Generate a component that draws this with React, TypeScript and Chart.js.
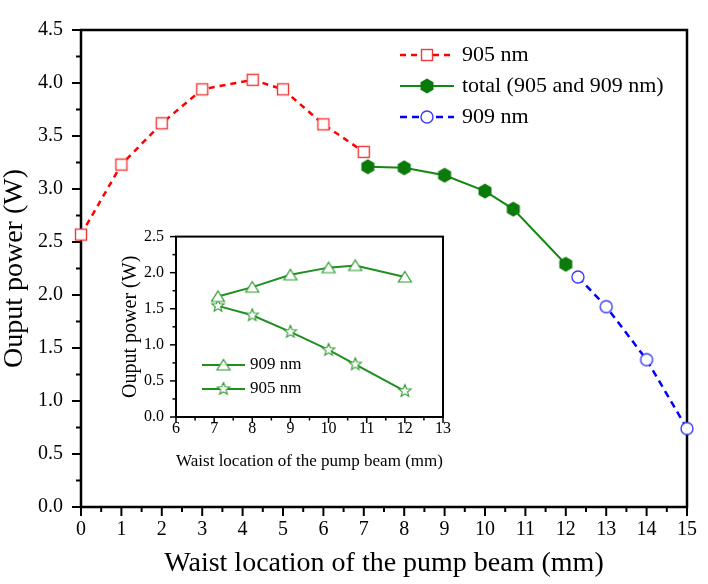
import { useEffect, useRef } from 'react';
import { Chart, registerables } from 'chart.js';

Chart.register(...registerables);

const FONT = '"Liberation Serif", "Times New Roman", serif';

// Main plot: output power versus waist location
const x905 = [0, 1, 2, 3, 4.25, 5, 6, 7];
const p905 = [2.57, 3.23, 3.62, 3.94, 4.03, 3.94, 3.61, 3.35];
const xTotal = [7.1, 8, 9, 10, 10.7, 12];
const pTotal = [3.21, 3.2, 3.13, 2.98, 2.81, 2.29];
const x909 = [12.3, 13, 14, 15];
const p909 = [2.17, 1.89, 1.39, 0.74];

// Inset: the two lines that make up the total
const xInset = [7.1, 8, 9, 10, 10.7, 12];
const inset909 = [1.67, 1.8, 1.97, 2.07, 2.1, 1.94];
const inset905 = [1.54, 1.41, 1.18, 0.93, 0.73, 0.36];

const mainLabels = ['905 nm', 'total (905 and 909 nm)', '909 nm'];
const insetLabels = ['909 nm', '905 nm'];
const xTitle = 'Waist location of the pump beam (mm)';
const yTitle = 'Ouput power (W)';

const pts = (xs: number[], ys: number[]) => xs.map((x, i) => ({ x, y: ys[i] }));

function marker(size: number, draw: (ctx: CanvasRenderingContext2D, c: number) => void) {
  const cv = document.createElement('canvas');
  cv.width = size;
  cv.height = size;
  const ctx = cv.getContext('2d')!;
  draw(ctx, size / 2);
  return cv;
}

function polygon(ctx: CanvasRenderingContext2D, c: number, n: number, rOut: number, rIn: number | null, start: number) {
  ctx.beginPath();
  const count = rIn === null ? n : n * 2;
  for (let i = 0; i < count; i++) {
    const r = rIn === null || i % 2 === 0 ? rOut : rIn;
    const a = start + (i * Math.PI * 2) / count;
    const px = c + r * Math.cos(a);
    const py = c + r * Math.sin(a);
    if (i === 0) ctx.moveTo(px, py);
    else ctx.lineTo(px, py);
  }
  ctx.closePath();
}

// Outward ticks on the bottom/left axes and a closed frame around the plot area
const axisFrame = {
  id: 'axisFrame',
  beforeDatasetsDraw(chart: any, _args: any, o: any) {
    const { ctx, chartArea } = chart;
    const { left, right, top, bottom } = chartArea;
    const xs = chart.scales.x;
    const ys = chart.scales.y;
    ctx.save();
    ctx.strokeStyle = '#000';
    ctx.lineWidth = o.tickWidth;
    const nx = Math.round((xs.max - xs.min) / o.xMinor);
    const xr = Math.round(o.xMajor / o.xMinor);
    for (let i = 0; i <= nx; i++) {
      const px = xs.getPixelForValue(xs.min + i * o.xMinor);
      const len = i % xr === 0 ? o.major : o.minor;
      ctx.beginPath();
      ctx.moveTo(px, bottom);
      ctx.lineTo(px, bottom + len);
      ctx.stroke();
    }
    const ny = Math.round((ys.max - ys.min) / o.yMinor);
    const yr = Math.round(o.yMajor / o.yMinor);
    for (let i = 0; i <= ny; i++) {
      const py = ys.getPixelForValue(ys.min + i * o.yMinor);
      const len = i % yr === 0 ? o.major : o.minor;
      ctx.beginPath();
      ctx.moveTo(left, py);
      ctx.lineTo(left - len, py);
      ctx.stroke();
    }
    ctx.lineWidth = o.frameWidth;
    ctx.strokeRect(left, top, right - left, bottom - top);
    ctx.restore();
  },
};

// Line-and-marker legend built from the datasets
const lineLegend = {
  id: 'lineLegend',
  afterDraw(chart: any, _args: any, o: any) {
    const { ctx } = chart;
    ctx.save();
    chart.data.datasets.forEach((ds: any, i: number) => {
      const y = o.y + i * o.rowGap;
      ctx.strokeStyle = ds.borderColor;
      ctx.lineWidth = ds.borderWidth;
      ctx.setLineDash(ds.borderDash || []);
      ctx.beginPath();
      ctx.moveTo(o.x, y);
      ctx.lineTo(o.x + o.lineLen, y);
      ctx.stroke();
      ctx.setLineDash([]);
      const img = ds.pointStyle as HTMLCanvasElement;
      ctx.drawImage(img, o.x + o.lineLen / 2 - img.width / 2, y - img.height / 2);
      ctx.fillStyle = '#000';
      ctx.font = `${o.fontSize}px ${FONT}`;
      ctx.textBaseline = 'middle';
      ctx.textAlign = 'left';
      ctx.fillText(ds.label, o.x + o.lineLen + o.textGap, y);
    });
    ctx.restore();
  },
};

export default function App() {
  const mainRef = useRef<HTMLCanvasElement>(null);
  const insetRef = useRef<HTMLCanvasElement>(null);

  useEffect(() => {
    const square = marker(16, (ctx, c) => {
      ctx.fillStyle = '#fff';
      ctx.strokeStyle = '#f03a3a';
      ctx.lineWidth = 1.4;
      ctx.fillRect(c - 5.5, c - 5.5, 11, 11);
      ctx.strokeRect(c - 5.5, c - 5.5, 11, 11);
    });
    const hexagon = marker(18, (ctx, c) => {
      polygon(ctx, c, 6, 7.5, null, -Math.PI / 2);
      ctx.fillStyle = '#0a7a0a';
      ctx.fill();
    });
    const circle = marker(16, (ctx, c) => {
      ctx.beginPath();
      ctx.arc(c, c, 6, 0, Math.PI * 2);
      ctx.fillStyle = '#fff';
      ctx.fill();
      ctx.strokeStyle = '#3a3aff';
      ctx.lineWidth = 1.4;
      ctx.stroke();
    });
    const triangle = marker(18, (ctx, c) => {
      ctx.beginPath();
      ctx.moveTo(c, c - 5.5);
      ctx.lineTo(c + 6.5, c + 5);
      ctx.lineTo(c - 6.5, c + 5);
      ctx.closePath();
      ctx.fillStyle = '#fff';
      ctx.fill();
      ctx.strokeStyle = '#2e9a2e';
      ctx.lineWidth = 1.2;
      ctx.stroke();
    });
    const star = marker(18, (ctx, c) => {
      polygon(ctx, c, 5, 6.5, 2.8, -Math.PI / 2);
      ctx.fillStyle = '#fff';
      ctx.fill();
      ctx.strokeStyle = '#2e9a2e';
      ctx.lineWidth = 1.1;
      ctx.stroke();
    });

    const tickFont = (size: number) => ({ family: FONT, size });

    const main = new Chart(mainRef.current!, {
      type: 'line',
      data: {
        datasets: [
          {
            label: mainLabels[0],
            data: pts(x905, p905),
            borderColor: '#ff0000',
            borderWidth: 2.5,
            borderDash: [6, 5],
            pointStyle: square,
          },
          {
            label: mainLabels[1],
            data: pts(xTotal, pTotal),
            borderColor: '#128a12',
            borderWidth: 2,
            pointStyle: hexagon,
          },
          {
            label: mainLabels[2],
            data: pts(x909, p909),
            borderColor: '#0000ff',
            borderWidth: 2.5,
            borderDash: [7, 5],
            pointStyle: circle,
          },
        ] as any,
      },
      options: {
        responsive: false,
        animation: false,
        clip: false as any,
        events: [],
        layout: { padding: { top: 12, right: 14, left: 0, bottom: 0 } },
        elements: { line: { tension: 0 }, point: { radius: 6 } },
        scales: {
          x: {
            type: 'linear',
            min: 0,
            max: 15,
            afterFit: (s: any) => { s.height = 77; },
            grid: { display: false, drawTicks: false },
            border: { display: false },
            ticks: { stepSize: 1, font: tickFont(20), color: '#000', padding: 11, maxRotation: 0, autoSkip: false },
            title: { display: true, text: xTitle, color: '#000', font: { family: FONT, size: 28, lineHeight: 1 }, padding: { top: 0, bottom: 6 } },
          },
          y: {
            type: 'linear',
            min: 0,
            max: 4.5,
            afterFit: (s: any) => { s.width = 81; },
            grid: { display: false, drawTicks: false },
            border: { display: false },
            ticks: { stepSize: 0.5, font: tickFont(20), color: '#000', padding: 18, callback: (v: any) => Number(v).toFixed(1) },
            title: { display: true, text: yTitle, color: '#000', font: { family: FONT, size: 28, lineHeight: 1 }, padding: { top: 0.5, bottom: 0 } },
          },
        },
        plugins: {
          legend: { display: false },
          tooltip: { enabled: false },
          axisFrame: { xMajor: 1, xMinor: 0.5, yMajor: 0.5, yMinor: 0.25, major: 9, minor: 5, tickWidth: 2, frameWidth: 2.5 },
          lineLegend: { x: 400, y: 55, rowGap: 31, lineLen: 54, textGap: 8, fontSize: 22 },
        } as any,
      },
      plugins: [axisFrame, lineLegend],
    });

    const inset = new Chart(insetRef.current!, {
      type: 'line',
      data: {
        datasets: [
          {
            label: insetLabels[0],
            data: pts(xInset, inset909),
            borderColor: '#1f8f1f',
            borderWidth: 2,
            pointStyle: triangle,
          },
          {
            label: insetLabels[1],
            data: pts(xInset, inset905),
            borderColor: '#1f8f1f',
            borderWidth: 2,
            pointStyle: star,
          },
        ] as any,
      },
      options: {
        responsive: false,
        animation: false,
        clip: false as any,
        events: [],
        layout: { padding: { top: 9, right: 12, left: 0, bottom: 0 } },
        elements: { line: { tension: 0 }, point: { radius: 6 } },
        scales: {
          x: {
            type: 'linear',
            min: 6,
            max: 13,
            afterFit: (s: any) => { s.height = 60; },
            grid: { display: false, drawTicks: false },
            border: { display: false },
            ticks: { stepSize: 1, font: tickFont(16), color: '#000', padding: 2, maxRotation: 0, autoSkip: false },
            title: { display: true, text: xTitle, color: '#000', font: { family: FONT, size: 17 }, padding: { top: 0, bottom: 5 } },
          },
          y: {
            type: 'linear',
            min: 0,
            max: 2.5,
            afterFit: (s: any) => { s.width = 66; },
            grid: { display: false, drawTicks: false },
            border: { display: false },
            ticks: { stepSize: 0.5, font: tickFont(16), color: '#000', padding: 12, callback: (v: any) => Number(v).toFixed(1) },
            title: { display: true, text: yTitle, color: '#000', font: { family: FONT, size: 20 }, padding: { top: 9, bottom: 0 } },
          },
        },
        plugins: {
          legend: { display: false },
          tooltip: { enabled: false },
          axisFrame: { xMajor: 1, xMinor: 0.5, yMajor: 0.5, yMinor: 0.25, major: 6, minor: 3.5, tickWidth: 1.5, frameWidth: 2 },
          lineLegend: { x: 92, y: 150, rowGap: 24, lineLen: 43, textGap: 5, fontSize: 17 },
        } as any,
      },
      plugins: [axisFrame, lineLegend],
    });

    return () => {
      main.destroy();
      inset.destroy();
    };
  }, []);

  return (
    <div style={{ position: 'absolute', left: 0, top: 0, width: 708, height: 584, background: '#fff' }}>
      <canvas ref={mainRef} width={708} height={584} style={{ position: 'absolute', left: 0, top: 0, width: 708, height: 584 }} />
      <canvas ref={insetRef} width={345} height={262} style={{ position: 'absolute', left: 110, top: 215, width: 345, height: 262 }} />
    </div>
  );
}
